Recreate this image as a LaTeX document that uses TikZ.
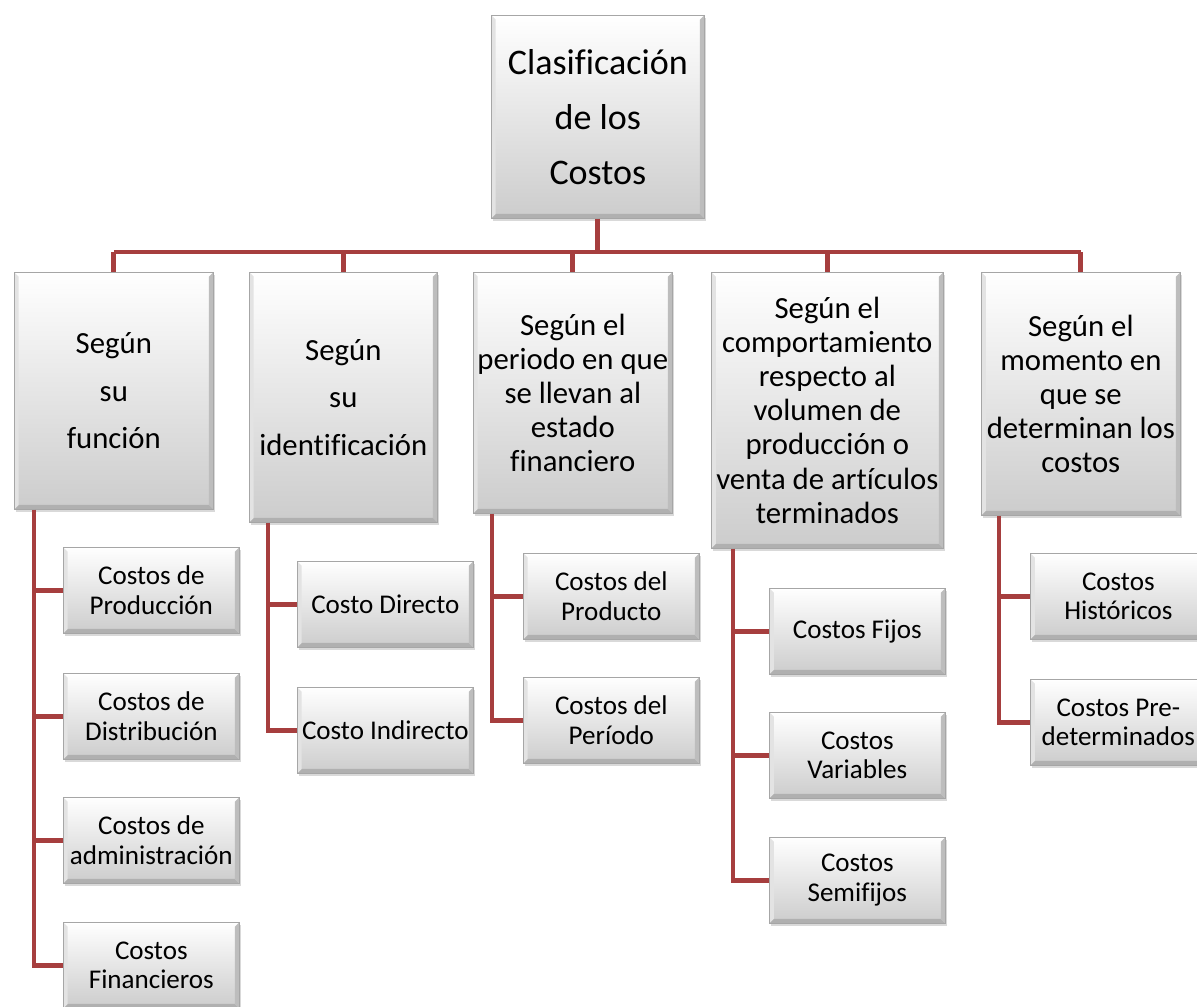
\documentclass[tikz,border=0pt]{standalone}
\usepackage{fontspec}
\setmainfont{Carlito}[Ligatures=NoCommon]
\usetikzlibrary{shadows}
\definecolor{linkred}{RGB}{166,62,62}
\tikzset{
  bevel/.style={path picture={
    \coordinate (bsw) at (path picture bounding box.south west);
    \coordinate (bse) at (path picture bounding box.south east);
    \coordinate (bne) at (path picture bounding box.north east);
    \coordinate (bnw) at (path picture bounding box.north west);
    \fill[gray!62] (bsw) -- (bse) -- ([shift={(-2.5pt,2.5pt)}]bse) -- ([shift={(2.5pt,2.5pt)}]bsw) -- cycle;
    \fill[gray!52] (bse) -- (bne) -- ([shift={(-2.5pt,-2.5pt)}]bne) -- ([shift={(-2.5pt,2.5pt)}]bse) -- cycle;
    \fill[gray!22] (bsw) -- (bnw) -- ([shift={(2.5pt,-2.5pt)}]bnw) -- ([shift={(2.5pt,2.5pt)}]bsw) -- cycle;
  }},
  box/.style={draw=gray!70, line width=0.4pt, top color=white, bottom color=gray!40,
    align=center, inner sep=0pt, anchor=north west, bevel,
    drop shadow={opacity=0.3, shadow xshift=1pt, shadow yshift=-1.5pt}},
  head/.style={box, font=\fontsize{20.5}{31.3}\selectfont},
  cat/.style={box, font=\fontsize{17.5}{19.4}\selectfont},
  leaf/.style={box, minimum width=3.52cm, minimum height=1.72cm, font=\fontsize{15.4}{17}\selectfont},
  link/.style={draw=linkred, line width=2.8pt},
}
\begin{document}
\begin{tikzpicture}[x=0.02cm, y=-0.02cm]
    \useasboundingbox (0,0) rectangle (1197,1007);

    % Root
    \node[head, minimum width=4.26cm, minimum height=4.06cm] (cls) at (491,15) {Clasificación\\de los\\Costos};

    % Categories
    \node[cat, minimum width=3.98cm, minimum height=4.74cm, font=\fontsize{17.5}{27}\selectfont] (fun) at (14,272) {Según\\su\\función};
    \node[cat, minimum width=3.76cm, minimum height=5cm, font=\fontsize{17.5}{27}\selectfont] (ide) at (249,272) {Según\\su\\identificación};
    \node[cat, minimum width=3.98cm, minimum height=4.82cm] (per) at (473,272) {Según el\\periodo en que\\se llevan al\\estado\\financiero};
    \node[cat, minimum width=4.64cm, minimum height=5.52cm] (com) at (711,272) {Según el\\comportamiento\\respecto al\\volumen de\\producción o\\venta de artículos\\terminados};
    \node[cat, minimum width=3.98cm, minimum height=4.86cm] (mom) at (981,272) {Según el\\momento en\\que se\\determinan los\\costos};

    % Leaves
    \node[leaf] (fa) at (63,547) {Costos de\\Producción};
    \node[leaf] (fb) at (63,673) {Costos de\\Distribución};
    \node[leaf] (fc) at (63,797) {Costos de\\administración};
    \node[leaf] (fd) at (63,922) {Costos\\Financieros};

    \node[leaf] (ia) at (297,561) {Costo Directo};
    \node[leaf] (ib) at (297,687) {Costo Indirecto};

    \node[leaf] (pa) at (523,553) {Costos del\\Producto};
    \node[leaf] (pb) at (523,677) {Costos del\\Período};

    \node[leaf] (ca) at (769,588) {Costos Fijos};
    \node[leaf] (cb) at (769,712) {Costos\\Variables};
    \node[leaf] (cc) at (769,837) {Costos\\Semifijos};

    \node[leaf] (ma) at (1030,553) {Costos\\Históricos};
    \node[leaf] (mb) at (1030,679) {Costos Pre-\\determinados};

    % Tree links
    \coordinate (bar) at (0,252);
    \draw[link] (cls.south) -- (cls.south |- bar);
    \draw[link] (fun.north |- bar) -- (mom.north |- bar);
    \foreach \c in {fun,ide,per,com,mom}
        \draw[link] (\c.north |- bar) -- (\c.north);

    % Spines
    \coordinate (sf) at ([xshift=0.4cm]fun.south west);
    \coordinate (si) at ([xshift=0.38cm]ide.south west);
    \coordinate (sp) at ([xshift=0.38cm]per.south west);
    \coordinate (sc) at ([xshift=0.44cm]com.south west);
    \coordinate (sm) at ([xshift=0.36cm]mom.south west);
    \draw[link] (sf) |- (fd.west);
    \draw[link] (si) |- (ib.west);
    \draw[link] (sp) |- (pb.west);
    \draw[link] (sc) |- (cc.west);
    \draw[link] (sm) |- (mb.west);
    \foreach \s/\n in {sf/fa,sf/fb,sf/fc,si/ia,sp/pa,sc/ca,sc/cb,sm/ma}
        \draw[link] (\s |- \n.west) -- (\n.west);
\end{tikzpicture}
\end{document}
